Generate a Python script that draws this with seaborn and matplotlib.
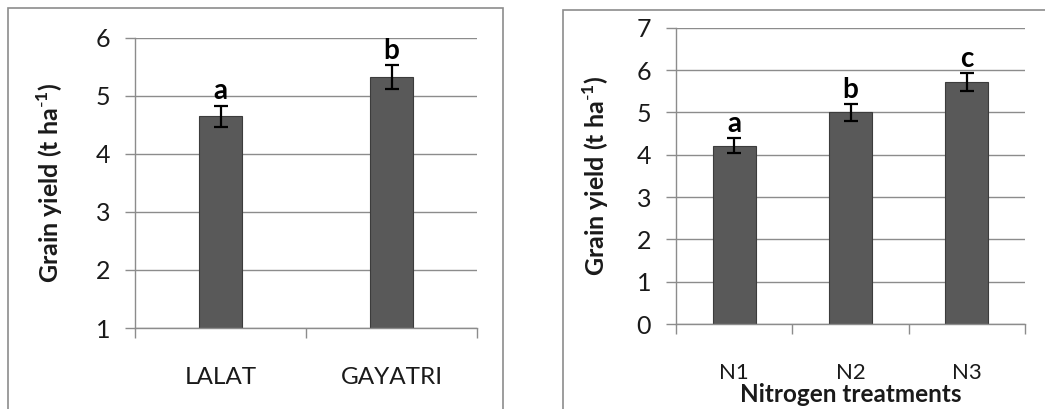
import matplotlib
matplotlib.use("Agg")
import matplotlib.pyplot as plt
from matplotlib.patches import Rectangle
import seaborn as sns
import pandas as pd

# Grain yield by variety
varieties = ["LALAT", "GAYATRI"]
variety_yield = [4.65, 5.32]
variety_err = [0.18, 0.21]
variety_letters = ["a", "b"]

# Grain yield by nitrogen treatment
treatments = ["N1", "N2", "N3"]
treatment_yield = [4.21, 5.00, 5.72]
treatment_err = [0.18, 0.20, 0.22]
treatment_letters = ["a", "b", "c"]

sns.set_theme(style="white")
plt.rcParams["font.family"] = ["Lato", "DejaVu Sans"]
plt.rcParams["mathtext.fontset"] = "custom"
plt.rcParams["mathtext.rm"] = "Lato"
plt.rcParams["mathtext.bf"] = "Lato:bold"

GRID = "#8c8c8c"
BAR = "#595959"
EDGE = "#3c3c3c"
TXT = "#1a1a1a"

fig = plt.figure(figsize=(10.45, 4.09), dpi=100)
W, H = 1045, 409

# outer chart frames
fig.patches.append(Rectangle((8 / W, -0.05), (503 - 8) / W, 1 - 8 / H + 0.05,
                             transform=fig.transFigure, fill=False,
                             edgecolor="#8c8c8c", lw=1.2))
fig.patches.append(Rectangle((563 / W, -0.05), 0.5, 1 - 10 / H + 0.05,
                             transform=fig.transFigure, fill=False,
                             edgecolor="#8c8c8c", lw=1.2))

YLABEL = "Grain yield (t ha$^{\\mathbf{\\text{-}1}}$)"


def panel(rect, cats, vals, errs, letters, ylim, width, ylabelpad,
          xticksize, xtickpad, xlabel=None):
    ax = fig.add_axes(rect)
    df = pd.DataFrame({"cat": cats, "val": vals})
    sns.barplot(data=df, x="cat", y="val", ax=ax, color=BAR, width=width,
                edgecolor=EDGE, linewidth=0.8, saturation=1)
    ax.errorbar(range(len(cats)), vals, yerr=errs, fmt="none", ecolor="black",
                elinewidth=1.6, capsize=5, capthick=1.6, zorder=5)
    for i, (v, e, t) in enumerate(zip(vals, errs, letters)):
        ax.text(i, v + e + 0.02, t, ha="center", va="bottom",
                fontsize=20, fontweight="bold", color="black")
    ax.set_ylim(*ylim)
    ax.set_xlim(-0.5, len(cats) - 0.5)
    ax.set_yticks(range(ylim[0], ylim[1] + 1))
    ax.yaxis.grid(True, color=GRID, lw=1)
    ax.set_axisbelow(True)
    for s in ["top", "right"]:
        ax.spines[s].set_visible(False)
    for s in ["left", "bottom"]:
        ax.spines[s].set_color(GRID)
        ax.spines[s].set_linewidth(1)
    ax.tick_params(axis="y", left=True, length=7, width=1, color=GRID,
                   labelsize=18, pad=11, labelcolor=TXT)
    ax.tick_params(axis="x", which="major", bottom=False, labelsize=xticksize,
                   pad=xtickpad, labelcolor=TXT)
    ax.set_xticks([i - 0.5 for i in range(len(cats) + 1)], minor=True)
    ax.tick_params(axis="x", which="minor", bottom=True, length=7,
                   width=1, color=GRID)
    ax.set_ylabel(YLABEL, fontsize=18, fontweight="bold", labelpad=ylabelpad,
                  color=TXT)
    if xlabel:
        ax.set_xlabel(xlabel, fontsize=17.5, fontweight="bold", labelpad=0,
                      color=TXT)
    else:
        ax.set_xlabel("")
    return ax


ax1 = panel([135 / W, 1 - 328 / H, (477 - 135) / W, (328 - 37.7) / H],
            varieties, variety_yield, variety_err, variety_letters,
            (1, 6), 0.246, 22, 17.5, 22)
ax2 = panel([676 / W, 1 - 324 / H, (1025 - 676) / W, (324 - 27.7) / H],
            treatments, treatment_yield, treatment_err, treatment_letters,
            (0, 7), 0.37, 18, 16, 22, xlabel="Nitrogen treatments")

fig.savefig("out.png", dpi=100)
